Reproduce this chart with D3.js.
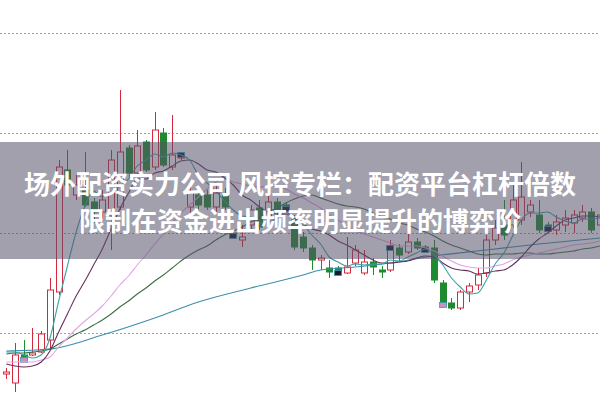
<!DOCTYPE html>
<html><head><meta charset="utf-8">
<script src="https://cdn.jsdelivr.net/npm/d3@7"></script>
<style>html,body{margin:0;padding:0;background:#fff;overflow:hidden}</style>
</head><body><svg id="c" width="600" height="400"></svg>
<script>
// ---- data (prices) ----
const openP  = [9.59,9.50,9.78,9.78,9.81,9.93,10.41,11.63,11.38,11.43,11.31,11.21,11.18,11.26,11.85,11.60,11.91,11.66,12.00,11.66,11.75,11.26,11.38,11.38,11.26,11.38,11.00,10.93,11.08,11.25,11.16,11.31,11.28,11.13,10.96,10.85,10.73,10.65,10.65,10.60,10.70,10.60,10.71,10.63,10.63,10.85,10.81,10.91,10.86,10.85,10.50,10.30,10.25,10.41,10.48,10.60,10.93,11.08,11.08,11.13,11.21,11.18,11.08,11.03,11.08,11.10,11.15,11.21,11.08];
const highP  = [9.65,9.90,9.93,10.05,10.02,10.55,11.73,11.83,11.58,11.81,11.35,11.43,11.83,12.43,11.88,12.03,11.93,12.21,12.05,12.18,11.80,11.48,11.43,11.43,11.48,11.45,11.01,11.08,11.28,11.33,11.38,11.35,11.30,11.18,11.01,10.88,10.78,10.73,10.67,10.96,10.88,10.83,10.75,10.67,10.93,10.89,11.01,10.95,10.88,10.93,10.53,10.35,10.43,10.50,10.65,10.98,11.13,11.33,11.48,11.71,11.33,11.33,11.11,11.18,11.23,11.23,11.28,11.25,11.23];
const lowP   = [9.54,9.41,9.72,9.77,9.80,9.83,10.38,11.43,11.33,11.26,11.10,11.15,10.83,11.23,11.55,11.57,11.61,11.63,11.66,11.63,11.73,11.15,11.23,11.23,11.21,11.23,10.95,10.86,11.03,11.03,11.13,11.18,11.22,10.83,10.81,10.63,10.63,10.55,10.58,10.59,10.67,10.58,10.58,10.55,10.61,10.71,10.79,10.83,10.81,10.50,10.27,10.23,10.23,10.31,10.43,10.56,10.88,10.93,11.05,11.08,11.16,11.00,11.02,10.98,11.01,11.00,11.11,11.00,11.05];
const closeP = [9.61,9.78,9.73,9.80,9.99,10.43,11.66,11.48,11.48,11.28,11.21,11.33,11.73,11.81,11.60,11.87,11.63,12.03,11.68,11.78,11.78,11.40,11.28,11.26,11.40,11.26,10.97,10.96,11.23,11.06,11.31,11.21,11.24,10.86,10.85,10.73,10.75,10.61,10.60,10.66,10.83,10.71,10.66,10.61,10.85,10.78,10.91,10.85,10.83,10.53,10.28,10.25,10.41,10.47,10.58,10.93,11.05,10.98,11.33,11.36,11.28,11.03,11.04,11.11,11.15,11.18,11.21,11.03,11.18];

const ma5  = [9.81,9.81,9.78,9.75,9.78,9.95,10.32,10.67,11.01,11.27,11.42,11.36,11.41,11.47,11.54,11.67,11.73,11.79,11.76,11.80,11.78,11.73,11.58,11.50,11.42,11.32,11.23,11.17,11.16,11.10,11.11,11.15,11.21,11.14,11.09,10.98,10.89,10.76,10.71,10.67,10.69,10.68,10.69,10.69,10.73,10.72,10.76,10.80,10.84,10.78,10.68,10.55,10.46,10.39,10.40,10.53,10.69,10.80,10.97,11.13,11.20,11.20,11.21,11.16,11.12,11.10,11.14,11.14,11.15];
const ma10 = [9.69,9.67,9.66,9.67,9.71,9.82,10.01,10.19,10.37,10.52,10.68,10.84,11.04,11.24,11.40,11.54,11.54,11.60,11.62,11.67,11.72,11.73,11.69,11.63,11.61,11.55,11.48,11.38,11.33,11.26,11.21,11.19,11.19,11.15,11.09,11.04,11.02,10.98,10.92,10.88,10.83,10.78,10.73,10.70,10.70,10.71,10.72,10.75,10.77,10.76,10.70,10.65,10.63,10.62,10.59,10.60,10.62,10.63,10.68,10.76,10.86,10.94,11.00,11.07,11.13,11.15,11.17,11.17,11.16];
const ma20 = [9.71,9.71,9.71,9.71,9.73,9.76,9.86,9.95,10.04,10.12,10.19,10.27,10.37,10.48,10.57,10.68,10.78,10.89,10.99,11.10,11.20,11.28,11.36,11.44,11.51,11.55,11.51,11.49,11.47,11.46,11.47,11.46,11.44,11.39,11.35,11.30,11.25,11.18,11.13,11.07,11.02,10.99,10.96,10.93,10.90,10.87,10.87,10.87,10.85,10.82,10.77,10.72,10.68,10.66,10.65,10.65,10.67,10.69,10.73,10.76,10.78,10.80,10.82,10.84,10.86,10.88,10.89,10.90,10.92];
const ma30 = [9.79,9.80,9.80,9.81,9.82,9.84,9.89,9.94,9.99,10.03,10.08,10.13,10.19,10.26,10.32,10.39,10.45,10.52,10.58,10.65,10.72,10.78,10.83,10.87,10.93,10.98,11.02,11.06,11.11,11.15,11.21,11.25,11.30,11.34,11.37,11.38,11.35,11.32,11.29,11.27,11.26,11.24,11.20,11.16,11.14,11.10,11.08,11.04,11.01,10.97,10.92,10.88,10.85,10.82,10.79,10.78,10.79,10.79,10.79,10.80,10.80,10.79,10.79,10.80,10.81,10.82,10.84,10.85,10.87];
const ma60Idx = [0,5,11,17,22,28,34,36,40,44,49,55,61,68];
const ma60Val = [9.82,9.84,9.98,10.15,10.31,10.45,10.58,10.63,10.66,10.70,10.77,10.83,10.89,10.95];

const signalIdx = [2,20,26,32,38,44,48,50,62];
const gridTicks = [10,11,12,13];
const titleLines = ["场外配资实力公司 风控专栏：配资平台杠杆倍数","限制在资金进出频率明显提升的博弈阶"];

// ---- drawing ----
const W = 600, H = 400;
const svg = d3.select("#c");
const n = closeP.length;
const x = d3.scaleLinear().domain([0, n - 1]).range([6.3, 599.9]);
const y = d3.scaleLinear().domain([9.33, 13.33]).range([H, 0]);

// grid
const g = svg.append("g").attr("transform", "translate(0,0)")
  .call(d3.axisLeft(y).tickValues(gridTicks).tickSize(-W).tickFormat(""));
g.select(".domain").remove();
g.selectAll(".tick line").attr("stroke", "#a0a0a0").attr("stroke-dasharray", "2,2").attr("stroke-width", 1);

// candles
const upC = "#d3293f", dnC = "#1f8a2e";
const bw = 6;
const data = d3.range(n).map(i => ({i, o: openP[i], h: highP[i], l: lowP[i], c: closeP[i]}));
const cg = svg.append("g");
const cs = cg.selectAll("g").data(data).join("g");
cs.append("line")
  .attr("x1", d => Math.round(x(d.i)) + 0.5).attr("x2", d => Math.round(x(d.i)) + 0.5)
  .attr("y1", d => y(d.h)).attr("y2", d => y(d.l))
  .attr("stroke", d => d.c >= d.o ? upC : dnC).attr("stroke-width", 1);
cs.append("rect")
  .attr("x", d => Math.round(x(d.i)) - bw / 2 + 0.5)
  .attr("y", d => y(Math.max(d.o, d.c)))
  .attr("width", bw)
  .attr("height", d => Math.max(1, Math.abs(y(d.o) - y(d.c))))
  .attr("fill", d => d.c >= d.o ? "#fff" : dnC)
  .attr("stroke", d => d.c >= d.o ? upC : dnC).attr("stroke-width", 1);

// signals
svg.append("g").selectAll("rect").data(signalIdx).join("rect")
  .attr("x", i => Math.round(x(i)) - 3.5)
  .attr("y", i => y(closeP[i]) - 2.5)
  .attr("width", 7).attr("height", 5)
  .attr("fill", (i, k) => (i === 2 || i === 50) ? "#c890c8" : "#161a33")
  .attr("stroke", "#3a9cb0").attr("stroke-width", 0.8);

// moving averages
const line = d3.line().x(d => x(d[0])).y(d => y(d[1])).curve(d3.curveMonotoneX);
const maSets = [
  {v: ma60Idx.map((k, j) => [k, ma60Val[j]]), c: "#3a8fae"},
  {v: ma30.map((v, i) => [i, v]), c: "#3d6e40"},
  {v: ma20.map((v, i) => [i, v]), c: "#e2a6e6"},
  {v: ma10.map((v, i) => [i, v]), c: "#66305e"},
  {v: ma5.map((v, i) => [i, v]), c: "#3aa3a3"}
];
svg.append("g").selectAll("path").data(maSets).join("path")
  .attr("d", d => line(d.v)).attr("fill", "none")
  .attr("stroke", d => d.c).attr("stroke-width", 1.1);

// banner
svg.append("rect").attr("x", 0).attr("y", 142).attr("width", W).attr("height", 117)
  .attr("fill", "rgb(85,82,105)").attr("opacity", 0.55);
svg.append("g").selectAll("text").data(titleLines).join("text")
  .attr("x", W / 2).attr("y", (d, i) => 194 + i * 37)
  .attr("text-anchor", "middle")
  .attr("font-family", "'Noto Sans CJK SC', 'Noto Sans', sans-serif")
  .attr("font-weight", "bold").attr("font-size", 26)
  .attr("fill", "#fff").text(d => d);
</script></body></html>
